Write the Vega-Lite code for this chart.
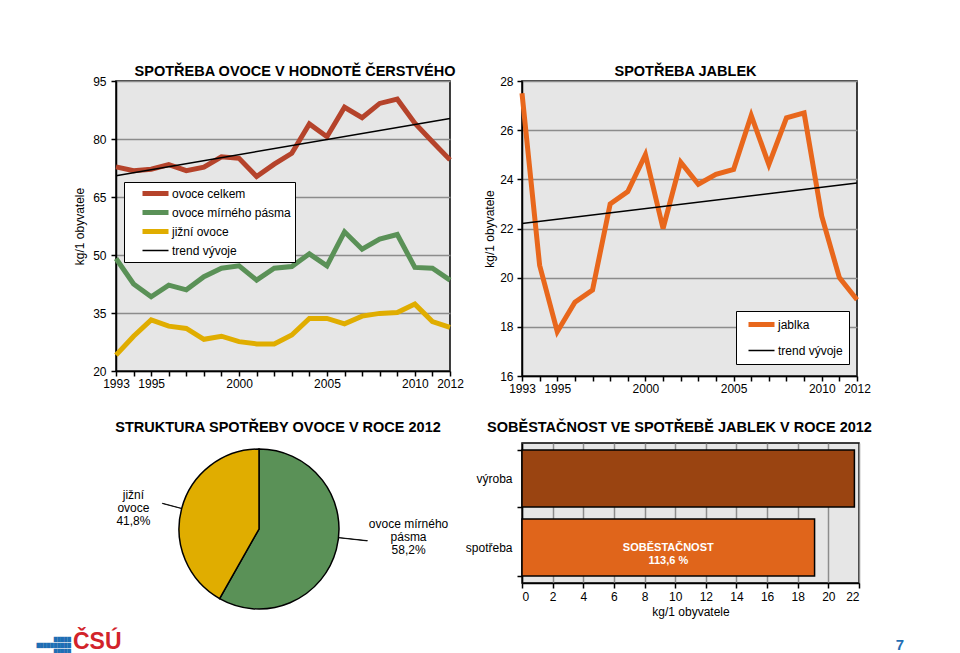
{
  "$schema": "https://vega.github.io/schema/vega-lite/v6.json",
  "background": "white",
  "padding": {"left": 36, "top": 62, "right": 10, "bottom": 1},
  "columns": 2,
  "spacing": {"row": 67, "column": 72},
  "bounds": "flush",
  "resolve": {"scale": {"color": "independent", "strokeWidth": "independent", "x": "independent", "y": "independent", "theta": "independent"}},
  "datasets": {
    "ovoce": [
      {"year": 1993, "series": "ovoce celkem", "value": 72.8},
      {"year": 1994, "series": "ovoce celkem", "value": 71.8},
      {"year": 1995, "series": "ovoce celkem", "value": 72.2},
      {"year": 1996, "series": "ovoce celkem", "value": 73.4},
      {"year": 1997, "series": "ovoce celkem", "value": 71.8},
      {"year": 1998, "series": "ovoce celkem", "value": 72.7},
      {"year": 1999, "series": "ovoce celkem", "value": 75.4},
      {"year": 2000, "series": "ovoce celkem", "value": 75.0},
      {"year": 2001, "series": "ovoce celkem", "value": 70.3},
      {"year": 2002, "series": "ovoce celkem", "value": 73.5},
      {"year": 2003, "series": "ovoce celkem", "value": 76.3},
      {"year": 2004, "series": "ovoce celkem", "value": 83.9},
      {"year": 2005, "series": "ovoce celkem", "value": 80.6},
      {"year": 2006, "series": "ovoce celkem", "value": 88.2},
      {"year": 2007, "series": "ovoce celkem", "value": 85.5},
      {"year": 2008, "series": "ovoce celkem", "value": 89.2},
      {"year": 2009, "series": "ovoce celkem", "value": 90.3},
      {"year": 2010, "series": "ovoce celkem", "value": 84.1},
      {"year": 2011, "series": "ovoce celkem", "value": 79.3},
      {"year": 2012, "series": "ovoce celkem", "value": 74.6},
      {"year": 1993, "series": "ovoce mírného pásma", "value": 49.1},
      {"year": 1994, "series": "ovoce mírného pásma", "value": 42.5},
      {"year": 1995, "series": "ovoce mírného pásma", "value": 39.2},
      {"year": 1996, "series": "ovoce mírného pásma", "value": 42.2},
      {"year": 1997, "series": "ovoce mírného pásma", "value": 41.0},
      {"year": 1998, "series": "ovoce mírného pásma", "value": 44.4},
      {"year": 1999, "series": "ovoce mírného pásma", "value": 46.6},
      {"year": 2000, "series": "ovoce mírného pásma", "value": 47.2},
      {"year": 2001, "series": "ovoce mírného pásma", "value": 43.5},
      {"year": 2002, "series": "ovoce mírného pásma", "value": 46.6},
      {"year": 2003, "series": "ovoce mírného pásma", "value": 47.0},
      {"year": 2004, "series": "ovoce mírného pásma", "value": 50.3},
      {"year": 2005, "series": "ovoce mírného pásma", "value": 47.2},
      {"year": 2006, "series": "ovoce mírného pásma", "value": 56.0},
      {"year": 2007, "series": "ovoce mírného pásma", "value": 51.5},
      {"year": 2008, "series": "ovoce mírného pásma", "value": 54.1},
      {"year": 2009, "series": "ovoce mírného pásma", "value": 55.3},
      {"year": 2010, "series": "ovoce mírného pásma", "value": 46.8},
      {"year": 2011, "series": "ovoce mírného pásma", "value": 46.6},
      {"year": 2012, "series": "ovoce mírného pásma", "value": 43.5},
      {"year": 1993, "series": "jižní ovoce", "value": 24.1},
      {"year": 1994, "series": "jižní ovoce", "value": 29.0},
      {"year": 1995, "series": "jižní ovoce", "value": 33.2},
      {"year": 1996, "series": "jižní ovoce", "value": 31.6},
      {"year": 1997, "series": "jižní ovoce", "value": 31.0},
      {"year": 1998, "series": "jižní ovoce", "value": 28.2},
      {"year": 1999, "series": "jižní ovoce", "value": 29.0},
      {"year": 2000, "series": "jižní ovoce", "value": 27.6},
      {"year": 2001, "series": "jižní ovoce", "value": 27.0},
      {"year": 2002, "series": "jižní ovoce", "value": 27.0},
      {"year": 2003, "series": "jižní ovoce", "value": 29.3},
      {"year": 2004, "series": "jižní ovoce", "value": 33.6},
      {"year": 2005, "series": "jižní ovoce", "value": 33.6},
      {"year": 2006, "series": "jižní ovoce", "value": 32.2},
      {"year": 2007, "series": "jižní ovoce", "value": 34.2},
      {"year": 2008, "series": "jižní ovoce", "value": 34.9},
      {"year": 2009, "series": "jižní ovoce", "value": 35.1},
      {"year": 2010, "series": "jižní ovoce", "value": 37.3},
      {"year": 2011, "series": "jižní ovoce", "value": 32.8},
      {"year": 2012, "series": "jižní ovoce", "value": 31.3},
      {"year": 1993, "series": "trend vývoje", "value": 70.5},
      {"year": 2012, "series": "trend vývoje", "value": 85.3}
    ],
    "jablka": [
      {"year": 1993, "series": "jablka", "value": 27.5},
      {"year": 1994, "series": "jablka", "value": 20.5},
      {"year": 1995, "series": "jablka", "value": 17.8},
      {"year": 1996, "series": "jablka", "value": 19.0},
      {"year": 1997, "series": "jablka", "value": 19.5},
      {"year": 1998, "series": "jablka", "value": 23.0},
      {"year": 1999, "series": "jablka", "value": 23.5},
      {"year": 2000, "series": "jablka", "value": 25.0},
      {"year": 2001, "series": "jablka", "value": 22.0},
      {"year": 2002, "series": "jablka", "value": 24.7},
      {"year": 2003, "series": "jablka", "value": 23.8},
      {"year": 2004, "series": "jablka", "value": 24.2},
      {"year": 2005, "series": "jablka", "value": 24.4},
      {"year": 2006, "series": "jablka", "value": 26.6},
      {"year": 2007, "series": "jablka", "value": 24.6},
      {"year": 2008, "series": "jablka", "value": 26.5},
      {"year": 2009, "series": "jablka", "value": 26.7},
      {"year": 2010, "series": "jablka", "value": 22.5},
      {"year": 2011, "series": "jablka", "value": 20.0},
      {"year": 2012, "series": "jablka", "value": 19.1},
      {"year": 1993, "series": "trend vývoje", "value": 22.2},
      {"year": 2012, "series": "trend vývoje", "value": 23.85}
    ],
    "pie": [
      {"part": "ovoce mírného pásma", "share": 58.2, "label": "ovoce mírného\npásma\n58,2%"},
      {"part": "jižní ovoce", "share": 41.8, "label": "jižní\novoce\n41,8%"}
    ],
    "bar": [
      {"cat": "výroba", "value": 21.7, "note": ""},
      {"cat": "spotřeba", "value": 19.1, "note": "SOBĚSTAČNOST\n113,6 %"}
    ]
  },
  "config": {
    "font": "Liberation Sans",
    "view": {"fill": "#e6e6e6", "stroke": "black", "strokeWidth": 1.5},
    "axis": {"labelFont": "Liberation Sans", "labelFontSize": 12, "labelColor": "black", "titleFont": "Liberation Sans", "titleFontSize": 12, "titleFontWeight": "normal", "titleColor": "black", "domainColor": "black", "domainWidth": 1.5, "tickColor": "black", "tickWidth": 1.5, "tickSize": 5, "gridColor": "#8c8c8c", "gridWidth": 1.5, "labelOverlap": false},
    "title": {"font": "Liberation Sans", "fontSize": 14.5, "fontWeight": "bold", "color": "black", "anchor": "middle", "frame": "group"},
    "legend": {"labelFont": "Liberation Sans", "labelFontSize": 12, "labelColor": "black"}
  },
  "concat": [
    {
      "width": 334,
      "height": 290,
      "title": {"text": "SPOTŘEBA OVOCE V HODNOTĚ ČERSTVÉHO", "dx": 12, "offset": -4},
      "data": {"name": "ovoce"},
      "mark": {"type": "line", "strokeJoin": "miter"},
      "encoding": {
        "x": {"field": "year", "type": "quantitative", "scale": {"domain": [1993, 2012], "nice": false, "zero": false},
          "axis": {"title": null, "grid": false, "values": [1993,1994,1995,1996,1997,1998,1999,2000,2001,2002,2003,2004,2005,2006,2007,2008,2009,2010,2011,2012], "format": "d", "labelExpr": "indexof([1993,1995,2000,2005,2010,2012], datum.value) >= 0 ? datum.label : ''", "labelOverlap": false, "labelFlush": false, "labelPadding": 2}},
        "y": {"field": "value", "type": "quantitative", "scale": {"domain": [20, 95], "nice": false, "zero": false},
          "axis": {"title": "kg/1 obyvatele", "values": [20, 35, 50, 65, 80, 95], "grid": true, "labelPadding": 5, "titlePadding": 6}},
        "color": {"field": "series", "type": "nominal",
          "scale": {"domain": ["ovoce celkem", "ovoce mírného pásma", "jižní ovoce", "trend vývoje"], "range": ["#b5432b", "#5a9157", "#e0ad00", "#000000"]},
          "legend": {"orient": "none", "legendX": 8, "legendY": 101, "title": null, "symbolType": "stroke", "symbolSize": 676, "clipHeight": 15, "rowPadding": 4, "padding": 4, "symbolOffset": 12, "labelOffset": 1, "fillColor": "white", "strokeColor": "black"}},
        "strokeWidth": {"field": "series", "type": "nominal",
          "scale": {"type": "ordinal", "domain": ["ovoce celkem", "ovoce mírného pásma", "jižní ovoce", "trend vývoje"], "range": [5, 5, 5, 1.5]},
          "legend": {"orient": "none", "legendX": 8, "legendY": 101, "title": null, "symbolType": "stroke", "symbolSize": 676, "clipHeight": 15, "rowPadding": 4, "padding": 4, "symbolOffset": 12, "labelOffset": 1, "fillColor": "white", "strokeColor": "black"}}
      }
    },
    {
      "width": 335,
      "height": 295,
      "title": {"text": "SPOTŘEBA JABLEK", "dx": -4, "offset": -4},
      "data": {"name": "jablka"},
      "mark": {"type": "line", "strokeJoin": "miter"},
      "encoding": {
        "x": {"field": "year", "type": "quantitative", "scale": {"domain": [1993, 2012], "nice": false, "zero": false},
          "axis": {"title": null, "grid": false, "values": [1993,1994,1995,1996,1997,1998,1999,2000,2001,2002,2003,2004,2005,2006,2007,2008,2009,2010,2011,2012], "format": "d", "labelExpr": "indexof([1993,1995,2000,2005,2010,2012], datum.value) >= 0 ? datum.label : ''", "labelOverlap": false, "labelFlush": false, "labelPadding": 2}},
        "y": {"field": "value", "type": "quantitative", "scale": {"domain": [16, 28], "nice": false, "zero": false},
          "axis": {"title": "kg/1 obyvatele", "values": [16, 18, 20, 22, 24, 26, 28], "grid": true, "labelPadding": 4, "titlePadding": 3}},
        "color": {"field": "series", "type": "nominal",
          "scale": {"domain": ["jablka", "trend vývoje"], "range": ["#e8671c", "#000000"]},
          "legend": {"orient": "none", "legendX": 214, "legendY": 230, "title": null, "symbolType": "stroke", "symbolSize": 676, "clipHeight": 15, "rowPadding": 11, "padding": 6, "symbolOffset": 4, "labelOffset": 1, "fillColor": "white", "strokeColor": "black"}},
        "strokeWidth": {"field": "series", "type": "nominal",
          "scale": {"type": "ordinal", "domain": ["jablka", "trend vývoje"], "range": [5, 1.5]},
          "legend": {"orient": "none", "legendX": 214, "legendY": 230, "title": null, "symbolType": "stroke", "symbolSize": 676, "clipHeight": 15, "rowPadding": 11, "padding": 6, "symbolOffset": 4, "labelOffset": 1, "fillColor": "white", "strokeColor": "black"}}
      }
    },
    {
      "width": 286,
      "height": 172,
      "view": {"fill": null, "stroke": null},
      "title": {"text": "STRUKTURA SPOTŘEBY OVOCE V ROCE 2012", "dx": 19, "offset": 8},
      "data": {"name": "pie"},
      "layer": [
        {
          "mark": {"type": "arc", "outerRadius": 80, "stroke": "black", "strokeWidth": 1.5},
          "encoding": {
            "theta": {"field": "share", "type": "quantitative", "stack": true},
            "order": {"field": "share", "sort": "descending"},
            "color": {"field": "part", "type": "nominal", "scale": {"domain": ["ovoce mírného pásma", "jižní ovoce"], "range": ["#5a9157", "#e0ad00"]}, "legend": null}
          }
        },
        {
          "transform": [
            {"stack": "share", "groupby": [], "sort": [{"field": "share", "order": "descending"}], "as": ["s0", "s1"]},
            {"filter": "datum.part == 'jižní ovoce'"},
            {"calculate": "(datum.s0 + datum.s1) / 2", "as": "a"},
            {"calculate": "datum.a + 0.05", "as": "a2"}
          ],
          "mark": {"type": "arc", "innerRadius": 80, "outerRadius": 100, "stroke": "black", "strokeWidth": 0.8, "fill": "black"},
          "encoding": {
            "theta": {"field": "a", "type": "quantitative"},
            "theta2": {"field": "a2"}
          }
        },
        {
          "transform": [
            {"stack": "share", "groupby": [], "sort": [{"field": "share", "order": "descending"}], "as": ["s0", "s1"]},
            {"filter": "datum.part == 'ovoce mírného pásma'"},
            {"calculate": "(datum.s0 + datum.s1) / 2 - 2.4", "as": "a"},
            {"calculate": "datum.a + 0.05", "as": "a2"}
          ],
          "mark": {"type": "arc", "innerRadius": 80, "outerRadius": 109, "stroke": "black", "strokeWidth": 0.8, "fill": "black"},
          "encoding": {
            "theta": {"field": "a", "type": "quantitative"},
            "theta2": {"field": "a2"}
          }
        },
        {
          "mark": {"type": "text", "radius": 135, "dx": 19, "dy": -39, "align": "center", "baseline": "middle", "lineBreak": "\n", "fontSize": 12, "lineHeight": 13, "color": "black"},
          "encoding": {
            "theta": {"field": "share", "type": "quantitative", "stack": true},
            "order": {"field": "share", "sort": "descending"},
            "text": {"condition": {"test": "datum.part == 'ovoce mírného pásma'", "field": "label"}, "value": ""}
          }
        },
        {
          "mark": {"type": "text", "radius": 135, "dx": 5, "dy": 0, "align": "center", "baseline": "middle", "lineBreak": "\n", "fontSize": 12, "lineHeight": 13, "color": "black"},
          "encoding": {
            "theta": {"field": "share", "type": "quantitative", "stack": true},
            "order": {"field": "share", "sort": "descending"},
            "text": {"condition": {"test": "datum.part == 'jižní ovoce'", "field": "label"}, "value": ""}
          }
        },
        {
          "data": {"values": [{"logo": "ČSÚ"}]},
          "mark": {"type": "text", "align": "left", "baseline": "alphabetic", "dx": -186, "dy": 120, "fontSize": 23, "fontWeight": "bold", "color": "#d2232a"},
          "encoding": {"text": {"field": "logo"}}
        },
        {
          "data": {"values": [{"logo": "█████\n██████████\n█████"}]},
          "mark": {"type": "text", "align": "right", "baseline": "middle", "dx": -188, "dy": 111, "fontSize": 4.5, "lineHeight": 6, "lineBreak": "\n", "font": "DejaVu Sans", "color": "#1f6eb4"},
          "encoding": {"text": {"field": "logo"}}
        },
        {
          "data": {"values": [{"page": "7"}]},
          "mark": {"type": "text", "align": "center", "baseline": "middle", "dx": 641, "dy": 116, "fontSize": 15, "fontWeight": "bold", "color": "#1f6eb4"},
          "encoding": {"text": {"field": "page"}}
        }
      ]
    },
    {
      "width": 337,
      "height": 140,
      "title": {"text": "SOBĚSTAČNOST VE SPOTŘEBĚ JABLEK V ROCE 2012", "dx": -11, "offset": 2},
      "data": {"name": "bar"},
      "encoding": {
        "y": {"field": "cat", "type": "nominal", "sort": null, "scale": {"paddingInner": 0.174, "paddingOuter": 0.1},
          "axis": {"title": null, "grid": false, "tickBand": "extent", "labelPadding": 5}}
      },
      "layer": [
        {
          "mark": {"type": "bar", "stroke": "black", "strokeWidth": 1.5},
          "encoding": {
            "x": {"field": "value", "type": "quantitative", "scale": {"domain": [0, 22], "nice": false},
              "axis": {"title": "kg/1 obyvatele", "values": [0, 2, 4, 6, 8, 10, 12, 14, 16, 18, 20, 22], "grid": true, "labelOverlap": false, "labelPadding": 3, "titlePadding": 4}},
            "color": {"field": "cat", "type": "nominal", "scale": {"domain": ["výroba", "spotřeba"], "range": ["#9a4411", "#e0651b"]}, "legend": null}
          }
        },
        {
          "transform": [{"filter": "datum.note != ''"}, {"calculate": "datum.value / 2", "as": "mid"}],
          "mark": {"type": "text", "color": "white", "fontWeight": "bold", "fontSize": 11, "lineBreak": "\n", "lineHeight": 13, "align": "center", "baseline": "middle"},
          "encoding": {
            "x": {"field": "mid", "type": "quantitative",
              "axis": {"title": "kg/1 obyvatele", "values": [0, 2, 4, 6, 8, 10, 12, 14, 16, 18, 20, 22], "grid": true, "labelOverlap": false, "labelPadding": 3, "titlePadding": 4}},
            "text": {"field": "note"}
          }
        }
      ]
    }
  ]
}
